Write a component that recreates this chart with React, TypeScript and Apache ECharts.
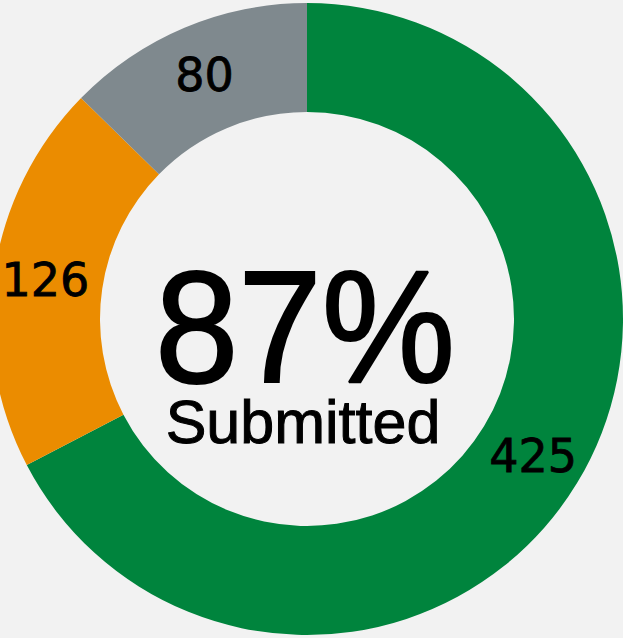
import React, { useEffect, useRef } from "react";
import * as echarts from "echarts";

const categories = ["Submitted", "Pending", "Not started"];
const values = [425, 126, 80];
const colors = ["#00843D", "#EB8C00", "#7F898E"];
const centerPercent = "87%";
const centerLabel = "Submitted";

export default function App() {
  const ref = useRef<HTMLDivElement>(null);
  useEffect(() => {
    if (!ref.current) return;
    const chart = echarts.init(ref.current, null, { renderer: "svg" });
    chart.setOption({
      animation: false,
      backgroundColor: "#F2F2F2",
      series: [
        {
          type: "pie",
          center: [307, 319],
          radius: [207, 316],
          startAngle: 90,
          clockwise: true,
          silent: true,
          data: categories.map((c, i) => ({
            name: c,
            value: values[i],
            itemStyle: { color: colors[i] },
          })),
          label: {
            show: true,
            position: "inside",
            formatter: "{c}",
            fontSize: 46,
            fontFamily: "DejaVu Sans",
            color: "#000",
            textBorderColor: "#000",
            textBorderWidth: 0.8,
          },
          labelLine: { show: false },
          emphasis: { disabled: true },
        },
      ],
      graphic: [
        {
          type: "text",
          x: 305,
          y: 326,
          scaleY: 1.07,
          style: {
            text: centerPercent,
            fontSize: 150,
            fontFamily: "Liberation Sans",
            fill: "#000",
            stroke: "#000",
            lineWidth: 2,
            align: "center",
            verticalAlign: "middle",
          },
        },
        {
          type: "text",
          x: 303,
          y: 422,
          style: {
            text: centerLabel,
            fontSize: 61,
            fontFamily: "Liberation Sans",
            fill: "#000",
            stroke: "#000",
            lineWidth: 1,
            align: "center",
            verticalAlign: "middle",
          },
        },
      ],
    });
    return () => chart.dispose();
  }, []);
  return (
    <div
      ref={ref}
      style={{ position: "absolute", left: 0, top: 0, width: 623, height: 638 }}
    />
  );
}
